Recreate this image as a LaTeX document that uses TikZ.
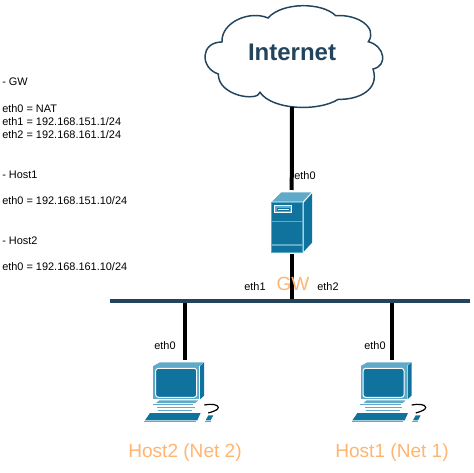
\documentclass[tikz,border=0pt]{standalone}
\usepackage{fontspec}
\setmainfont{Liberation Sans}
\definecolor{navy}{HTML}{23445D}
\definecolor{devdark}{HTML}{10739E}
\definecolor{devlight}{HTML}{5FA9C9}
\definecolor{peach}{HTML}{FFB570}
\tikzset{
  link/.style={draw=black,line width=3pt},
  anchorbox/.style={inner sep=0pt,outer sep=0pt,minimum width=1pt},
  note/.style={inner sep=0pt,anchor=west,font=\fontsize{8.2}{10}\selectfont,text=black},
  ethlabel/.style={inner sep=0pt,font=\fontsize{8.2}{10}\selectfont,text=black},
  namelabel/.style={inner sep=0pt,font=\fontsize{14.3}{16}\selectfont,text=peach},
  cloudline/.style={draw=navy,line width=1.1pt,fill=white},
  pics/pc/.style={code={
    % top and side of the monitor
    \fill[devlight] (0,0) -- (6.7,-3.7) -- (50.7,-3.7) -- (46,0) -- cycle;
    \fill[devdark] (46.8,0) -- (50.9,-3.7) -- (50.9,29.6) -- (46.8,33.3) -- cycle;
    % front
    \fill[devlight] (0,0) rectangle (46,33.3);
    \draw[white,line width=0.75pt,fill=devdark,rounded corners=2pt] (2.4,2.3) rectangle (43.4,31.3);
    % base
    \fill[devlight] (3,37) -- (42,37) -- (45,34.3) -- (6,34.3) -- cycle;
    \draw[devlight,line width=0.6pt] (-0.5,38.3) -- (40,38.3);
    \draw[devlight,line width=0.6pt] (4,41.5) -- (41.5,41.5);
    \draw[devlight,line width=0.6pt] (5,44.2) -- (39,44.2);
    % keyboard
    \fill[devdark] (-3.3,47) -- (47.3,47) -- (44,54.3) -- (-8.3,54.3) -- cycle;
    \draw[devlight,line width=0.8pt] (-9,55.5) -- (42.7,55.5);
    % mouse and cord
    \fill[devdark] (55,49.3) -- (60,49.3) -- (57.3,54.3) -- (52.3,54.3) -- cycle;
    \draw[devlight,line width=0.8pt] (51.7,55.6) -- (57.3,55.6);
    \draw[black,line width=0.9pt] (51,39) .. controls (58,37.5) and (65,38.5) .. (65,41.5) .. controls (65,44) and (60,45.5) .. (55,47);
  }}
}
\begin{document}
\begin{tikzpicture}[x=0.75pt,y=-0.75pt]
\useasboundingbox (0,0) rectangle (474,473);
% cloud
\draw[cloudline] (222,42)
  .. controls (221,22) and (250,10) .. (268,18)
  .. controls (282,2) and (322,2) .. (335.7,15.7)
  .. controls (358,14) and (378,28) .. (368.3,41.7)
  .. controls (385,46) and (388,66) .. (373,69)
  .. controls (380,90) and (358,100) .. (338.3,99.3)
  .. controls (318,112) and (272,110) .. (260,92.3)
  .. controls (258,102) and (218,96) .. (218.3,74)
  .. controls (200,68) and (200,42) .. (222,42) -- cycle;
\node[anchorbox,minimum height=82.5pt,font=\bfseries\fontsize{18}{20}\selectfont,text=navy] (internet) at (292,52) {Internet};
% gateway device
\node[anchorbox,minimum height=48pt] (gw) at (291.7,222) {};
\fill[devlight] (272,201.7) -- (281.3,192.3) -- (311.3,192.3) -- (302.7,201.7) -- cycle;
\fill[devdark] (303.7,202.7) -- (312,193.3) -- (312,242.7) -- (303.7,251.7) -- cycle;
\fill[devlight] (271.3,202.3) rectangle (302.7,253);
\fill[devdark] (272,203) rectangle (302,220.7);
\fill[devdark] (272,222.3) rectangle (302,244.3);
\fill[devdark] (272,246) rectangle (302,252.4);
\draw[white,line width=0.75pt] (274.7,206) rectangle (291.7,213);
\fill[devlight] (275.2,206.5) rectangle (291.2,212.5);
\fill[devdark] (276.5,207.7) rectangle (290,211.3);
\fill[white] (278,208.7) rectangle (288.5,210.3);
% hosts
\pic at (153.3,366) {pc};
\pic at (360.7,366) {pc};
\node[anchorbox,minimum height=45pt] (host2) at (185,390) {};
\node[anchorbox,minimum height=45pt] (host1) at (392.3,390) {};
% bus
\node[anchorbox,minimum width=270pt,minimum height=3pt,fill=navy] (bus) at (290,301) {};
% connectors
\draw[link] (internet.south) -- (gw.north);
\draw[link] (gw.south) -- (gw.south |- bus.north);
\draw[link] (host2.north |- bus.south) -- (host2.north);
\draw[link] (host1.north |- bus.south) -- (host1.north);
% labels
\node[ethlabel] (l0) at (305,176) {eth0};
\node[ethlabel] (l1) at (255,287) {eth1};
\node[ethlabel] (l2) at (328,287) {eth2};
\node[namelabel] (gwname) at (293,284) {GW};
\node[ethlabel] (l3) at (165,346) {eth0};
\node[ethlabel] (l4) at (375,346) {eth0};
\node[namelabel] (h2name) at (185,453) {Host2 (Net 2)};
\node[namelabel] (h1name) at (392,453) {Host1 (Net 1)};
% notes
\node[note] (n1) at (2,82) {- GW};
\node[note] (n2) at (2,109) {eth0 = NAT};
\node[note] (n3) at (2,122) {eth1 = 192.168.151.1/24};
\node[note] (n4) at (2,135) {eth2 = 192.168.161.1/24};
\node[note] (n5) at (2,175) {- Host1};
\node[note] (n6) at (2,201) {eth0 = 192.168.151.10/24};
\node[note] (n7) at (2,241) {- Host2};
\node[note] (n8) at (2,267) {eth0 = 192.168.161.10/24};
\end{tikzpicture}
\end{document}
